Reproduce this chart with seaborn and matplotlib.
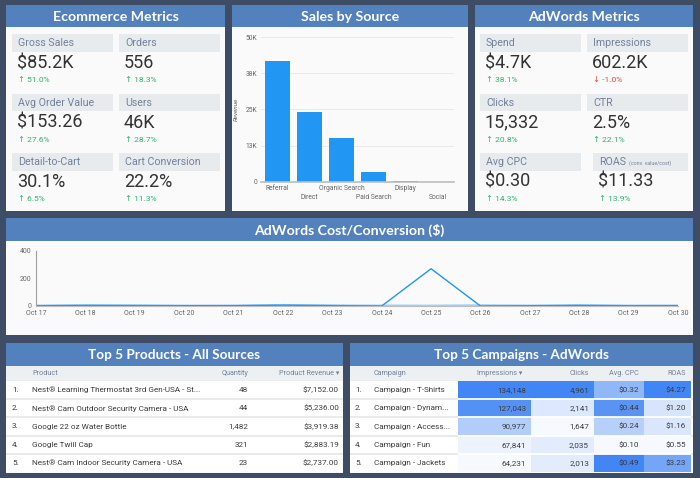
import matplotlib
matplotlib.use("Agg")
import matplotlib.pyplot as plt
from matplotlib.patches import Rectangle
from matplotlib.colors import LinearSegmentedColormap
import numpy as np
import pandas as pd
import seaborn as sns

# ---------------- data ----------------
ecom_labels = ["Gross Sales", "Orders", "Avg Order Value", "Users", "Detail-to-Cart", "Cart Conversion"]
ecom_values = ["$85.2K", "556", "$153.26", "46K", "30.1%", "22.2%"]
ecom_changes = ["51.0%", "18.3%", "27.6%", "28.7%", "6.5%", "11.3%"]

adw_labels = ["Spend", "Impressions", "Clicks", "CTR", "Avg CPC", "ROAS"]
adw_values = ["$4.7K", "602.2K", "15,332", "2.5%", "$0.30", "$11.33"]
adw_changes = ["38.1%", "-1.0%", "20.8%", "22.1%", "14.3%", "13.9%"]

sources = ["Referral", "Direct", "Organic Search", "Paid Search", "Display", "Social"]
source_revenue = [41700, 24100, 15200, 3400, 300, 0]
revenue_ticks = [0, 12500, 25000, 37500, 50000]
revenue_tick_labels = ["0", "13K", "25K", "38K", "50K"]

days = ["Oct 17", "Oct 18", "Oct 19", "Oct 20", "Oct 21", "Oct 22", "Oct 23",
        "Oct 24", "Oct 25", "Oct 26", "Oct 27", "Oct 28", "Oct 29", "Oct 30"]
cost_conv = [2, 4, 3, 2, 3, 6, 3, 0, 271, 0, 2, 4, 2, 2]
cost_conv_prev = [3, 6, 5, 3, 2, 7, 4, 3, 2, 5, 3, 6, 3, 4]
cost_ticks = [0, 200, 400]

products = ["Nest® Learning Thermostat 3rd Gen-USA - St...",
            "Nest® Cam Outdoor Security Camera - USA",
            "Google 22 oz Water Bottle",
            "Google Twill Cap",
            "Nest® Cam Indoor Security Camera - USA"]
product_qty = ["48", "44", "1,482", "321", "23"]
product_revenue = ["$7,152.00", "$5,236.00", "$3,919.38", "$2,883.19", "$2,737.00"]

campaigns = ["Campaign - T-Shirts", "Campaign - Dynam...", "Campaign - Access...",
             "Campaign - Fun", "Campaign - Jackets"]
camp_impressions = [134148, 127043, 90977, 67841, 64231]
camp_clicks = [4961, 2141, 1647, 2035, 2013]
camp_cpc = [0.32, 0.44, 0.24, 0.10, 0.49]
camp_roas = [4.27, 1.20, 1.16, 0.55, 3.23]

# ---------------- style ----------------
BG = "#3f4c65"
HEAD = "#5381be"
PANEL = "#fafafa"
BAND = "#e8ebee"
LABEL = "#71819a"
TEXT = "#333333"
GREEN = "#2fb36a"
RED = "#e8453c"
BLUE = "#2196f3"
plt.rcParams.update({
    "font.family": ["Roboto", "DejaVu Sans"],
    "axes.linewidth": 0.8,
})

W, H = 700, 478
fig = plt.figure(figsize=(W / 100, H / 100), dpi=100, facecolor=BG)
bg = fig.add_axes([0, 0, 1, 1])
bg.set_xlim(0, W); bg.set_ylim(H, 0); bg.axis("off")


def px_axes(x0, y0, x1, y1):
    return fig.add_axes([x0 / W, 1 - y1 / H, (x1 - x0) / W, (y1 - y0) / H])


def panel(x0, y0, x1, y1, title, head_h=22, size=10.2):
    bg.add_patch(Rectangle((x0, y0), x1 - x0, y1 - y0, fc=PANEL, ec="none"))
    bg.add_patch(Rectangle((x0, y0), x1 - x0, head_h, fc=HEAD, ec="none"))
    bg.text((x0 + x1) / 2, y0 + head_h / 2 + 0.5, title, ha="center", va="center",
            color="white", fontsize=size, fontweight="bold", family="Lato")


def tiles(xcols, labels, values, changes, last_shift=0):
    for i, (lab, val, chg) in enumerate(zip(labels, values, changes)):
        r, c = divmod(i, 2)
        shift = last_shift if i == len(labels) - 1 else 0
        x0 = xcols[c] + shift
        y0 = 34 + r * 59.5
        bg.add_patch(Rectangle((x0, y0), 101 - shift, 17.5, fc=BAND, ec="none"))
        bg.text(x0 + 6, y0 + 9, lab, va="center", color=LABEL, fontsize=7.7)
        bg.text(x0 + 5, y0 + 34, val, va="baseline", color=TEXT, fontsize=13)
        down = chg.startswith("-")
        bg.text(x0 + 6, y0 + 48, ("↓ " if down else "↑ ") + chg, va="baseline",
                color=RED if down else GREEN, fontsize=6)


# ---------------- panels ----------------
panel(6, 5, 225, 211, "Ecommerce Metrics")
panel(232, 5, 468, 211, "Sales by Source")
panel(475, 5, 693, 211, "AdWords Metrics")
panel(6, 218, 693, 335, "AdWords Cost/Conversion ($)", head_h=23)
panel(6, 343, 343, 473, "Top 5 Products - All Sources", head_h=23, size=9.8)
panel(350, 343, 693, 473, "Top 5 Campaigns - AdWords", head_h=23, size=9.8)

tiles([12, 119], ecom_labels, ecom_values, ecom_changes)
tiles([480, 587], adw_labels, adw_values, adw_changes, last_shift=6)
bg.text(629, 34 + 2 * 59.5 + 9.8, "(conv. value/cost)", va="center", color=LABEL, fontsize=3.8)

# ---------------- sales by source ----------------
ax = px_axes(261, 37, 454, 182)
ax.set_facecolor("none")
sns.barplot(x=sources, y=source_revenue, color=BLUE, saturation=1, width=0.78, ax=ax)
ax.set_ylim(0, 50000)
ax.set_xlim(-0.5, len(sources) - 0.5)
ax.set_yticks(revenue_ticks, revenue_tick_labels)
ax.set_xticks(range(len(sources)), sources)
# staggered category labels: every second one drops to a second row
for i, t in enumerate(ax.get_xticklabels()):
    if i % 2:
        t.set_y(-9 / 145)
ax.grid(axis="y", color="#e6e6e6", lw=0.6)
ax.set_axisbelow(True)
for s in ["top", "right", "left"]:
    ax.spines[s].set_visible(False)
ax.spines["bottom"].set_color("#bdbdbd")
ax.spines["bottom"].set_linewidth(1.2)
ax.tick_params(length=0, labelsize=4.9, colors="#666666", pad=2.5)
ax.set_ylabel("Revenue", fontsize=4.6, style="italic", color="#666666")
ax.yaxis.set_label_coords(-22 / 193, 0.5)

# ---------------- cost / conversion line ----------------
ax = px_axes(36, 251, 678, 306)
ax.set_facecolor("none")
line_df = pd.DataFrame({"day": np.arange(len(days)), "cur": cost_conv, "prev": cost_conv_prev})
sns.lineplot(data=line_df, x="day", y="prev", color="#9fd0fa", lw=1.6, ax=ax)
sns.lineplot(data=line_df, x="day", y="cur", color=BLUE, lw=1.0, ax=ax)
ax.set_xlim(0, len(days) - 1)
ax.set_ylim(0, 400)
ax.set_xticks(range(len(days)), days)
ax.set_yticks(cost_ticks)
ax.set_xlabel(""); ax.set_ylabel("")
for s in ["top", "right"]:
    ax.spines[s].set_visible(False)
ax.spines["left"].set_color("#9e9e9e")
ax.spines["bottom"].set_color("#bdbdbd")
ax.tick_params(length=0, labelsize=5.0, colors="#666666", pad=3)

# ---------------- tables ----------------
ROW_TOP, ROW_H = 381, 18.2
hdr_kw = dict(va="center", color=LABEL, fontsize=5.2)
cell_kw = dict(va="center", color="#3c3c3c", fontsize=5.9)

for x0, x1 in [(6, 343), (350, 693)]:
    bg.add_patch(Rectangle((x0, 366), x1 - x0, ROW_TOP - 366, fc="#edf0f3", ec="none"))
    bg.add_patch(Rectangle((x0, ROW_TOP), x1 - x0, 5 * ROW_H, fc="white", ec="none"))
    bg.hlines([ROW_TOP + k * ROW_H for k in range(1, 5)], x0, x1, color="#e6e8eb", lw=1.3)

# products
bg.text(32, 373.5, "Product", **hdr_kw)
bg.text(248, 373.5, "Quantity", ha="right", **hdr_kw)
bg.text(339, 373.5, "Product Revenue ▾", ha="right", **hdr_kw)
for i, (p, q, rv) in enumerate(zip(products, product_qty, product_revenue)):
    yc = ROW_TOP + (i + 0.5) * ROW_H
    bg.text(12, yc, f"{i + 1}.", **cell_kw)
    bg.text(32, yc, p, **cell_kw)
    bg.text(248, yc, q, ha="right", **cell_kw)
    bg.text(339, yc, rv, ha="right", **cell_kw)

# campaigns
bg.text(374, 373.5, "Campaign", **hdr_kw)
for i, c in enumerate(campaigns):
    yc = ROW_TOP + (i + 0.5) * ROW_H
    bg.text(355, yc, f"{i + 1}.", **cell_kw)
    bg.text(374, yc, c, **cell_kw)

cmap = LinearSegmentedColormap.from_list("cells", ["#f6f9fe", "#4285f4"])
camp_cols = [("Impressions ▾", camp_impressions, "{:,.0f}"),
             ("Clicks", camp_clicks, "{:,.0f}"),
             ("Avg. CPC", camp_cpc, "${:.2f}"),
             ("ROAS", camp_roas, "${:.2f}")]
col_edges = [458, 531, 594, 644, 691]
for j, (name, vals, fmt) in enumerate(camp_cols):
    v = np.asarray(vals, dtype=float)
    norm = pd.DataFrame(((v - v.min()) / (v.max() - v.min())).reshape(-1, 1))
    x0, x1 = col_edges[j], col_edges[j + 1]
    ax = px_axes(x0, ROW_TOP, x1, ROW_TOP + 5 * ROW_H)
    sns.heatmap(norm, cmap=cmap, vmin=0, vmax=1, cbar=False,
                xticklabels=False, yticklabels=False, ax=ax)
    ax.hlines(np.arange(1, 5), 0, 1, colors="white", lw=1.3)
    pad = 5 / (x1 - x0)
    for i, val in enumerate(v):
        ax.text(1 - pad, i + 0.5, fmt.format(val), ha="right", **cell_kw)
    hx = x1 - 5 - (4 if j == 0 else 0)
    bg.text(hx, 373.5, name, ha="right", **hdr_kw)

fig.savefig("out.png", dpi=100, facecolor=BG)
